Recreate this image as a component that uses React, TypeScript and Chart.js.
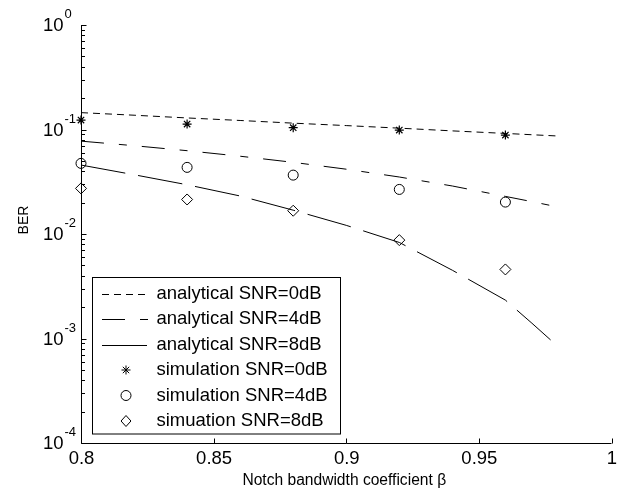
import React, { useEffect, useRef } from "react";
import { Chart, registerables } from "chart.js";

Chart.register(...registerables);

// ---- data ----
const betaAnalytical = [0.8, 0.82, 0.84, 0.86, 0.88, 0.9, 0.92, 0.94, 0.96, 0.97, 0.98];
const berAnalytical0 = [0.145, 0.137, 0.129, 0.122, 0.115, 0.109, 0.103, 0.097, 0.0917, 0.0891, 0.0866];
const berAnalytical4 = [0.0774, 0.07, 0.0627, 0.0555, 0.0485, 0.0417, 0.0351, 0.0288, 0.0229, 0.0204, 0.0181];
const berAnalytical8 = [0.0457, 0.0369, 0.0296, 0.0231, 0.0169, 0.0121, 0.0083, 0.0045, 0.00233, 0.0014, 0.00083];

const betaSim = [0.8, 0.84, 0.88, 0.92, 0.96];
const berSim0 = [0.123, 0.1128, 0.104, 0.0988, 0.0885];
const berSim4 = [0.0474, 0.0434, 0.0366, 0.0267, 0.0202];
const berSim8 = [0.0273, 0.0214, 0.0167, 0.00874, 0.00458];

const seriesLabels = [
  "analytical SNR=0dB",
  "analytical SNR=4dB",
  "analytical SNR=8dB",
  "simulation SNR=0dB",
  "simulation SNR=4dB",
  "simuation SNR=8dB",
];

const xTickValues = [0.8, 0.85, 0.9, 0.95, 1];
const xTickLabels = ["0.8", "0.85", "0.9", "0.95", "1"];
const yTickExponents = [0, -1, -2, -3, -4];
const xTitle = "Notch bandwidth coefficient \u03b2";
const yTitle = "BER";

const FONT = '"Liberation Sans", Arial, Helvetica, sans-serif';

const pts = (xs: number[], ys: number[]) => xs.map((x, i) => ({ x, y: ys[i] }));

function drawMarker(ctx: CanvasRenderingContext2D, style: string, x: number, y: number, r: number) {
  ctx.beginPath();
  if (style === "circle") {
    ctx.arc(x, y, r, 0, Math.PI * 2);
  } else if (style === "rectRot") {
    ctx.moveTo(x, y - r);
    ctx.lineTo(x + r * 0.9, y);
    ctx.lineTo(x, y + r);
    ctx.lineTo(x - r * 0.9, y);
    ctx.closePath();
  } else if (style === "star") {
    ctx.moveTo(x - r, y);
    ctx.lineTo(x + r, y);
    ctx.moveTo(x, y - r);
    ctx.lineTo(x, y + r);
    const d = r * 0.707;
    ctx.moveTo(x - d, y - d);
    ctx.lineTo(x + d, y + d);
    ctx.moveTo(x - d, y + d);
    ctx.lineTo(x + d, y - d);
  }
  ctx.stroke();
}

const decorPlugin = {
  id: "decor",
  afterDatasetsDraw(chart: any) {
    const { ctx, chartArea, scales } = chart;
    const xs = scales.x;
    const ys = scales.y;
    const L = Math.round(chartArea.left) + 0.5;
    const B = Math.round(chartArea.bottom) + 0.5;
    const T = chartArea.top;
    const R = chartArea.right;
    ctx.save();
    ctx.strokeStyle = "#000";
    ctx.fillStyle = "#000";
    ctx.lineWidth = 1;
    ctx.setLineDash([]);
    // axes lines
    ctx.beginPath();
    ctx.moveTo(L, T);
    ctx.lineTo(L, B);
    ctx.lineTo(R, B);
    ctx.stroke();

    // y ticks (major + minor), inward
    ctx.beginPath();
    for (let e = -4; e <= 0; e++) {
      const py = Math.round(ys.getPixelForValue(Math.pow(10, e))) + 0.5;
      ctx.moveTo(L, py);
      ctx.lineTo(L + 5, py);
      if (e < 0) {
        for (let m = 2; m <= 9; m++) {
          const my = Math.round(ys.getPixelForValue(m * Math.pow(10, e))) + 0.5;
          ctx.moveTo(L, my);
          ctx.lineTo(L + 3.5, my);
        }
      }
    }
    // x ticks inward
    xTickValues.forEach((v) => {
      const px = Math.round(xs.getPixelForValue(v)) + 0.5;
      ctx.moveTo(px, B);
      ctx.lineTo(px, B - 5);
    });
    ctx.stroke();

    // x tick labels
    ctx.font = `18.5px ${FONT}`;
    ctx.textAlign = "center";
    ctx.textBaseline = "middle";
    xTickValues.forEach((v, i) => {
      ctx.fillText(xTickLabels[i], xs.getPixelForValue(v) + 0.5, 459);
    });

    // y tick labels 10^e
    yTickExponents.forEach((e) => {
      const py = ys.getPixelForValue(Math.pow(10, e));
      ctx.font = `18.5px ${FONT}`;
      ctx.textAlign = "right";
      ctx.textBaseline = "middle";
      ctx.fillText("10", 63.5, py + 1);
      ctx.font = `13px ${FONT}`;
      ctx.textAlign = "left";
      ctx.textBaseline = "alphabetic";
      ctx.fillText(String(e), 64.5, py - 7);
    });

    // axis titles
    ctx.font = `15.6px ${FONT}`;
    ctx.textAlign = "center";
    ctx.textBaseline = "middle";
    ctx.fillText(xTitle, (chartArea.left + chartArea.right) / 2 - 2, 481);
    ctx.save();
    ctx.translate(24, 220);
    ctx.rotate(-Math.PI / 2);
    ctx.font = `14px ${FONT}`;
    ctx.fillText(yTitle, 0, 0);
    ctx.restore();

    // legend
    const bx = 92.5, by = 277.5, bw = 248, bh = 156.5;
    ctx.fillStyle = "#fff";
    ctx.fillRect(bx, by, bw, bh);
    ctx.strokeStyle = "#000";
    ctx.lineWidth = 1;
    ctx.strokeRect(bx, by, bw, bh);
    const rowY = [293.5, 319, 344.5, 370, 395.5, 421];
    ctx.font = `18.5px ${FONT}`;
    ctx.textAlign = "left";
    ctx.textBaseline = "middle";
    chart.data.datasets.forEach((ds: any, i: number) => {
      const ry = rowY[i];
      ctx.strokeStyle = "#000";
      ctx.fillStyle = "#000";
      if (ds.showLine !== false) {
        ctx.setLineDash(ds.borderDash || []);
        ctx.beginPath();
        ctx.moveTo(102, Math.round(ry) + 0.5);
        ctx.lineTo(148, Math.round(ry) + 0.5);
        ctx.stroke();
        ctx.setLineDash([]);
      } else {
        drawMarker(ctx, ds.pointStyle, 126, ry, ds.pointRadius);
      }
      ctx.fillText(ds.label, 156.5, ry);
    });
    ctx.restore();
  },
};

export default function App() {
  const ref = useRef<HTMLCanvasElement>(null);
  useEffect(() => {
    document.body.style.margin = "0";
    const canvas = ref.current!;
    const chart = new Chart(canvas, {
      type: "line",
      data: {
        datasets: [
          {
            label: seriesLabels[0],
            data: pts(betaAnalytical, berAnalytical0),
            borderColor: "#000",
            borderWidth: 1,
            borderDash: [7, 5],
            pointRadius: 0,
            tension: 0,
          },
          {
            label: seriesLabels[1],
            data: pts(betaAnalytical, berAnalytical4),
            borderColor: "#000",
            borderWidth: 1,
            borderDash: [23, 15, 8, 15],
            pointRadius: 0,
            tension: 0,
          },
          {
            label: seriesLabels[2],
            data: pts(betaAnalytical, berAnalytical8),
            borderColor: "#000",
            borderWidth: 1,
            borderDash: [45, 13],
            pointRadius: 0,
            tension: 0,
          },
          {
            label: seriesLabels[3],
            data: pts(betaSim, berSim0),
            showLine: false,
            pointStyle: "star",
            pointRadius: 4.5,
            borderColor: "#000",
            backgroundColor: "transparent",
            pointBorderWidth: 1.2,
            clip: false,
          },
          {
            label: seriesLabels[4],
            data: pts(betaSim, berSim4),
            showLine: false,
            pointStyle: "circle",
            pointRadius: 5,
            borderColor: "#000",
            backgroundColor: "transparent",
            pointBorderWidth: 1,
            clip: false,
          },
          {
            label: seriesLabels[5],
            data: pts(betaSim, berSim8),
            showLine: false,
            pointStyle: "rectRot",
            pointRadius: 5.5,
            borderColor: "#000",
            backgroundColor: "transparent",
            pointBorderWidth: 1,
            clip: false,
          },
        ] as any,
      },
      options: {
        animation: false,
        responsive: false,
        devicePixelRatio: 1,
        layout: { padding: { top: 25, right: 12.5, left: 0, bottom: 0 } },
        plugins: { legend: { display: false }, tooltip: { enabled: false } },
        scales: {
          x: {
            type: "linear",
            min: 0.8,
            max: 1,
            ticks: { display: false },
            grid: { display: false },
            border: { display: false },
            afterFit: (s: any) => {
              s.height = 50;
            },
          },
          y: {
            type: "logarithmic",
            min: 1e-4,
            max: 1,
            ticks: { display: false },
            grid: { display: false },
            border: { display: false },
            afterFit: (s: any) => {
              s.width = 81;
            },
          },
        },
      } as any,
      plugins: [decorPlugin],
    });
    return () => chart.destroy();
  }, []);
  return (
    <div style={{ position: "absolute", left: 0, top: 0, width: 624, height: 493, background: "#fff" }}>
      <canvas ref={ref} width={624} height={493} />
    </div>
  );
}
